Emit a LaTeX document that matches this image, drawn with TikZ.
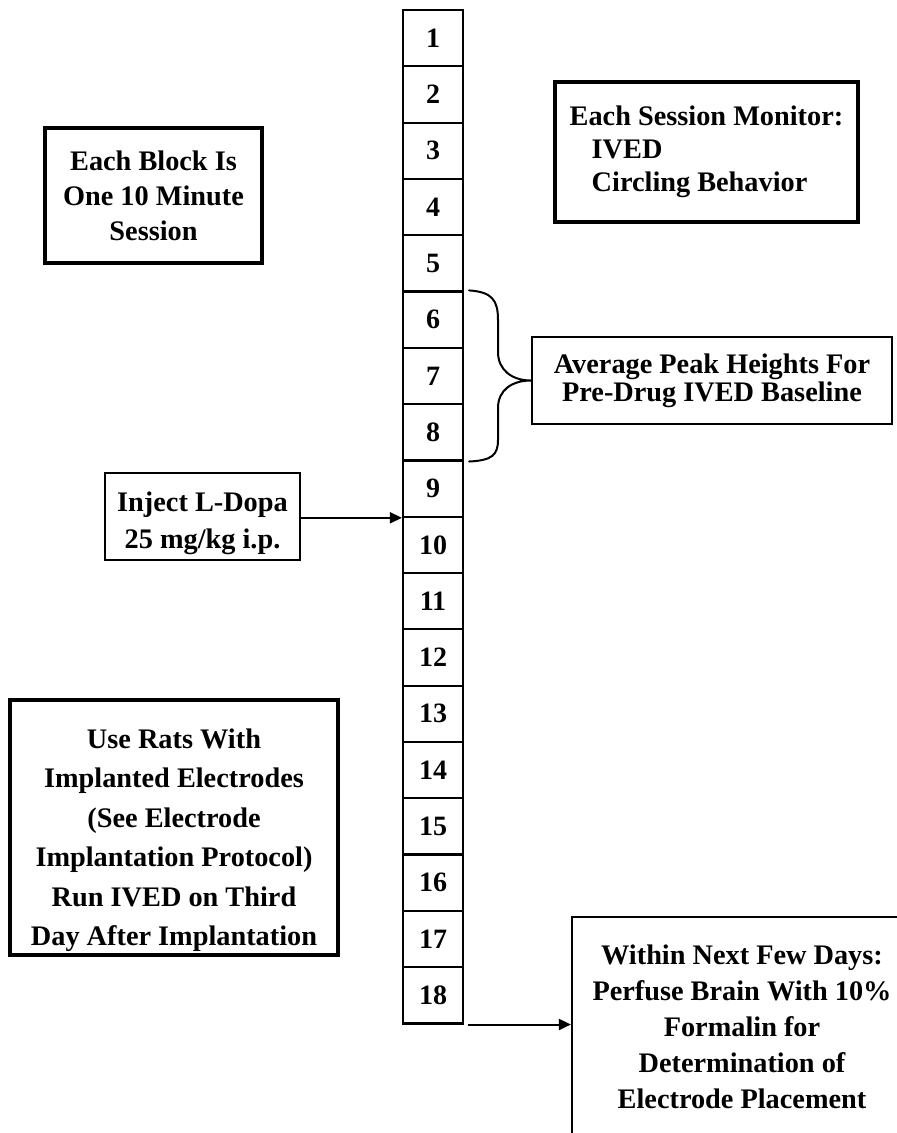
\documentclass[tikz,border=0pt]{standalone}
\usepackage{fontspec}
\setmainfont{Liberation Serif}
\usetikzlibrary{arrows.meta,calc}
\begin{document}
\begin{tikzpicture}[x=1pt,y=-1pt,
  txt/.style={align=center, inner sep=0pt},
  fs/.style={font=\fontsize{28.3}{#1}\selectfont\bfseries},
  thinbox/.style={txt, draw, line width=2.2pt},
  thickbox/.style={txt, draw, line width=4.5pt},
  blockbox/.style={draw, line width=2.2pt, minimum width=60pt, minimum height=56.3pt, inner sep=0pt, font=\fontsize{28}{30}\selectfont\bfseries},
  arr/.style={line width=2pt, -{Triangle[length=12pt,width=11pt]}},
  bracepath/.style={line width=2pt, line cap=round}
]
\useasboundingbox (0,0) rectangle (897,1133);
\clip (0,0) rectangle (897,1133);

% column of 18 blocks
\foreach \i in {1,...,18}{
  \node[blockbox] (b\i) at (433,{10+56.3*(\i-0.5)}) {\i};
}

% notes
\node[thickbox, fs=35, minimum width=217pt, minimum height=135pt] (blk) at (153.5,195.5)
  {Each Block Is\\One 10 Minute\\Session};

\node[thickbox, fs=33, minimum width=303pt, minimum height=140pt, align=left] (mon) at (706.5,152)
  {Each Session Monitor:\\\hspace*{22pt}IVED\\\hspace*{22pt}Circling Behavior};

\node[thinbox, fs=28, minimum width=360pt, minimum height=87pt] (avg) at (712,380.5)
  {Average Peak Heights For\\Pre-Drug IVED Baseline};

\node[thinbox, fs=37, minimum width=195pt, minimum height=87pt] (inj) at (202.5,516.5)
  {\rule{0pt}{33pt}Inject L-Dopa\\25 mg/kg i.p.};

\node[thickbox, fs=39.5, minimum width=328pt, minimum height=255pt] (rats) at (174,827.5)
  {\rule{0pt}{45pt}Use Rats With\\Implanted Electrodes\\(See Electrode\\Implantation Protocol)\\Run IVED on Third\\Day After Implantation};

\node[thinbox, fs=36, minimum width=340pt, minimum height=220pt] (within) at (742,1027)
  {Within Next Few Days:\\Perfuse Brain With 10\%\\Formalin for\\Determination of\\Electrode Placement};

% brace over blocks 6-8
\coordinate (bt) at ($(b6.north east)+(5,0)$);
\coordinate (bb) at ($(b8.south east)+(5,0)$);
\draw[bracepath] (bt)
  .. controls (492,292) and (498,300) .. (498,320)
  -- (498,352)
  .. controls (498,370) and (512,380.5) .. (avg.west)
  .. controls (512,380.5) and (498,390) .. (498,408)
  -- (498,440)
  .. controls (498,455) and (492,460.4) .. (bb);

% arrows
\coordinate (injt) at (b9.south west);
\draw[arr] (inj.east |- injt) -- (injt);
\coordinate (s18) at ($(b18.south east)+(4,0)$);
\draw[arr] (s18) -- (s18 -| within.west);
\end{tikzpicture}
\end{document}
